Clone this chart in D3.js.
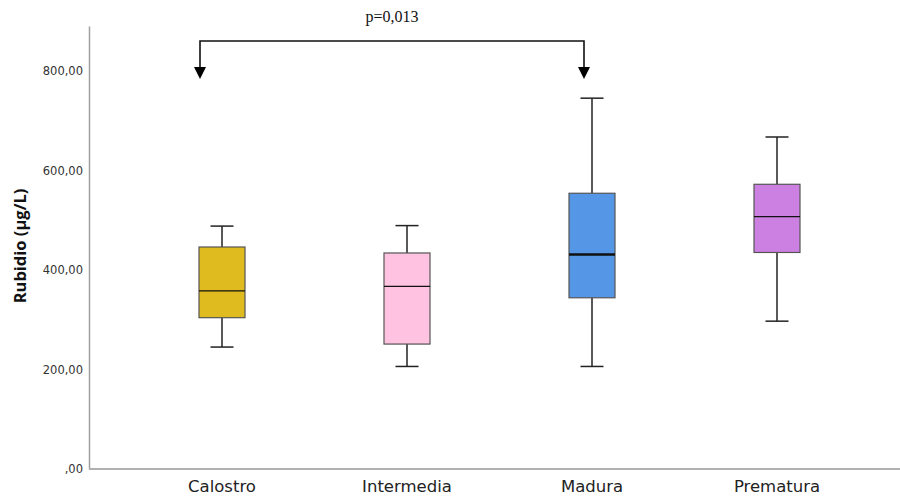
<!DOCTYPE html>
<html><head><meta charset="utf-8">
<script src="https://cdn.jsdelivr.net/npm/d3@7"></script>
<style>body{margin:0;background:#fff}svg{display:block}</style>
</head><body>
<svg id="c" width="900" height="498"></svg>
<script>
const categories = ["Calostro","Intermedia","Madura","Prematura"];
const whiskerLow = [245, 206, 206, 297];
const q1 = [304, 251, 344, 435];
const median = [358, 367, 431, 507];
const q3 = [446, 434, 554, 572];
const whiskerHigh = [488, 489, 745, 667];
const colors = ["#E0BB1F","#FFC2E1","#5596E6","#CC80E2"];
const yTicks = [0,200,400,600,800];
const tickLabels = [",00","200,00","400,00","600,00","800,00"];
const pLabel = "p=0,013";
const compare = ["Calostro","Madura"];

const svg = d3.select("#c");
const y = d3.scaleLinear().domain([0,890]).range([469,26]);
const x = d3.scaleBand().domain(categories).range([129.5,869.5]);
const cx = c => x(c) + x.bandwidth()/2;

// axes
const yAxis = d3.axisLeft(y).tickValues(yTicks).tickSize(0).tickPadding(6)
  .tickFormat((d,i)=>tickLabels[i]);
const gy = svg.append("g").attr("transform","translate(89,0)").call(yAxis);
gy.select(".domain").attr("stroke","#a0a0a0").attr("stroke-width",1.5);
gy.selectAll("text").attr("font-family","DejaVu Sans, sans-serif").attr("font-size",11.5).attr("fill","#333");

const gx = svg.append("g").attr("transform","translate(0,469)")
  .call(d3.axisBottom(x).tickSize(0).tickPadding(11));
gx.select(".domain").attr("d","M89,0H900").attr("stroke","#b0b0b0").attr("stroke-width",2);
gx.selectAll("text").attr("font-family","DejaVu Sans, sans-serif").attr("font-size",16.5).attr("fill","#222");

svg.append("text").attr("transform","translate(26,246) rotate(-90)")
  .attr("text-anchor","middle").attr("font-family","Open Sans, sans-serif")
  .attr("font-weight","bold").attr("font-size",16.5).attr("fill","#111").text("Rubidio (µg/L)");

// boxes
const boxW = 46, capW = 23;
const g = svg.append("g").selectAll("g").data(categories).join("g");
g.append("line").attr("x1",c=>cx(c)).attr("x2",c=>cx(c))
  .attr("y1",(c,i)=>y(whiskerLow[i])).attr("y2",(c,i)=>y(q1[i])).attr("stroke","#222").attr("stroke-width",1.5);
g.append("line").attr("x1",c=>cx(c)).attr("x2",c=>cx(c))
  .attr("y1",(c,i)=>y(q3[i])).attr("y2",(c,i)=>y(whiskerHigh[i])).attr("stroke","#222").attr("stroke-width",1.5);
g.append("line").attr("x1",c=>cx(c)-capW/2).attr("x2",c=>cx(c)+capW/2)
  .attr("y1",(c,i)=>y(whiskerLow[i])).attr("y2",(c,i)=>y(whiskerLow[i])).attr("stroke","#222").attr("stroke-width",1.5);
g.append("line").attr("x1",c=>cx(c)-capW/2).attr("x2",c=>cx(c)+capW/2)
  .attr("y1",(c,i)=>y(whiskerHigh[i])).attr("y2",(c,i)=>y(whiskerHigh[i])).attr("stroke","#222").attr("stroke-width",1.5);
g.append("rect").attr("x",c=>cx(c)-boxW/2).attr("width",boxW)
  .attr("y",(c,i)=>y(q3[i])).attr("height",(c,i)=>y(q1[i])-y(q3[i]))
  .attr("fill",(c,i)=>colors[i]).attr("stroke","#555").attr("stroke-width",1.2);
g.append("line").attr("x1",c=>cx(c)-boxW/2).attr("x2",c=>cx(c)+boxW/2)
  .attr("y1",(c,i)=>y(median[i])).attr("y2",(c,i)=>y(median[i]))
  .attr("stroke","#111").attr("stroke-width",(c,i)=>c==="Madura"?2.5:1.3);

// annotation bracket
const xa = cx(compare[0]) - 22, xb = cx(compare[1]) - 8;
const yTop = 41, yTip = 79;
svg.append("path").attr("d",`M${xa},${yTip-12}V${yTop}H${xb}V${yTip-12}`)
  .attr("fill","none").attr("stroke","#111").attr("stroke-width",1.6);
[xa,xb].forEach(xx=>{
  svg.append("path").attr("d",`M${xx-6},${yTip-12}L${xx+6},${yTip-12}L${xx},${yTip}Z`).attr("fill","#000");
});
svg.append("text").attr("x",(xa+xb)/2).attr("y",22).attr("text-anchor","middle")
  .attr("font-family","Liberation Serif, Times New Roman, serif").attr("font-size",16).attr("fill","#111").text(pLabel);
</script>
</body></html>
